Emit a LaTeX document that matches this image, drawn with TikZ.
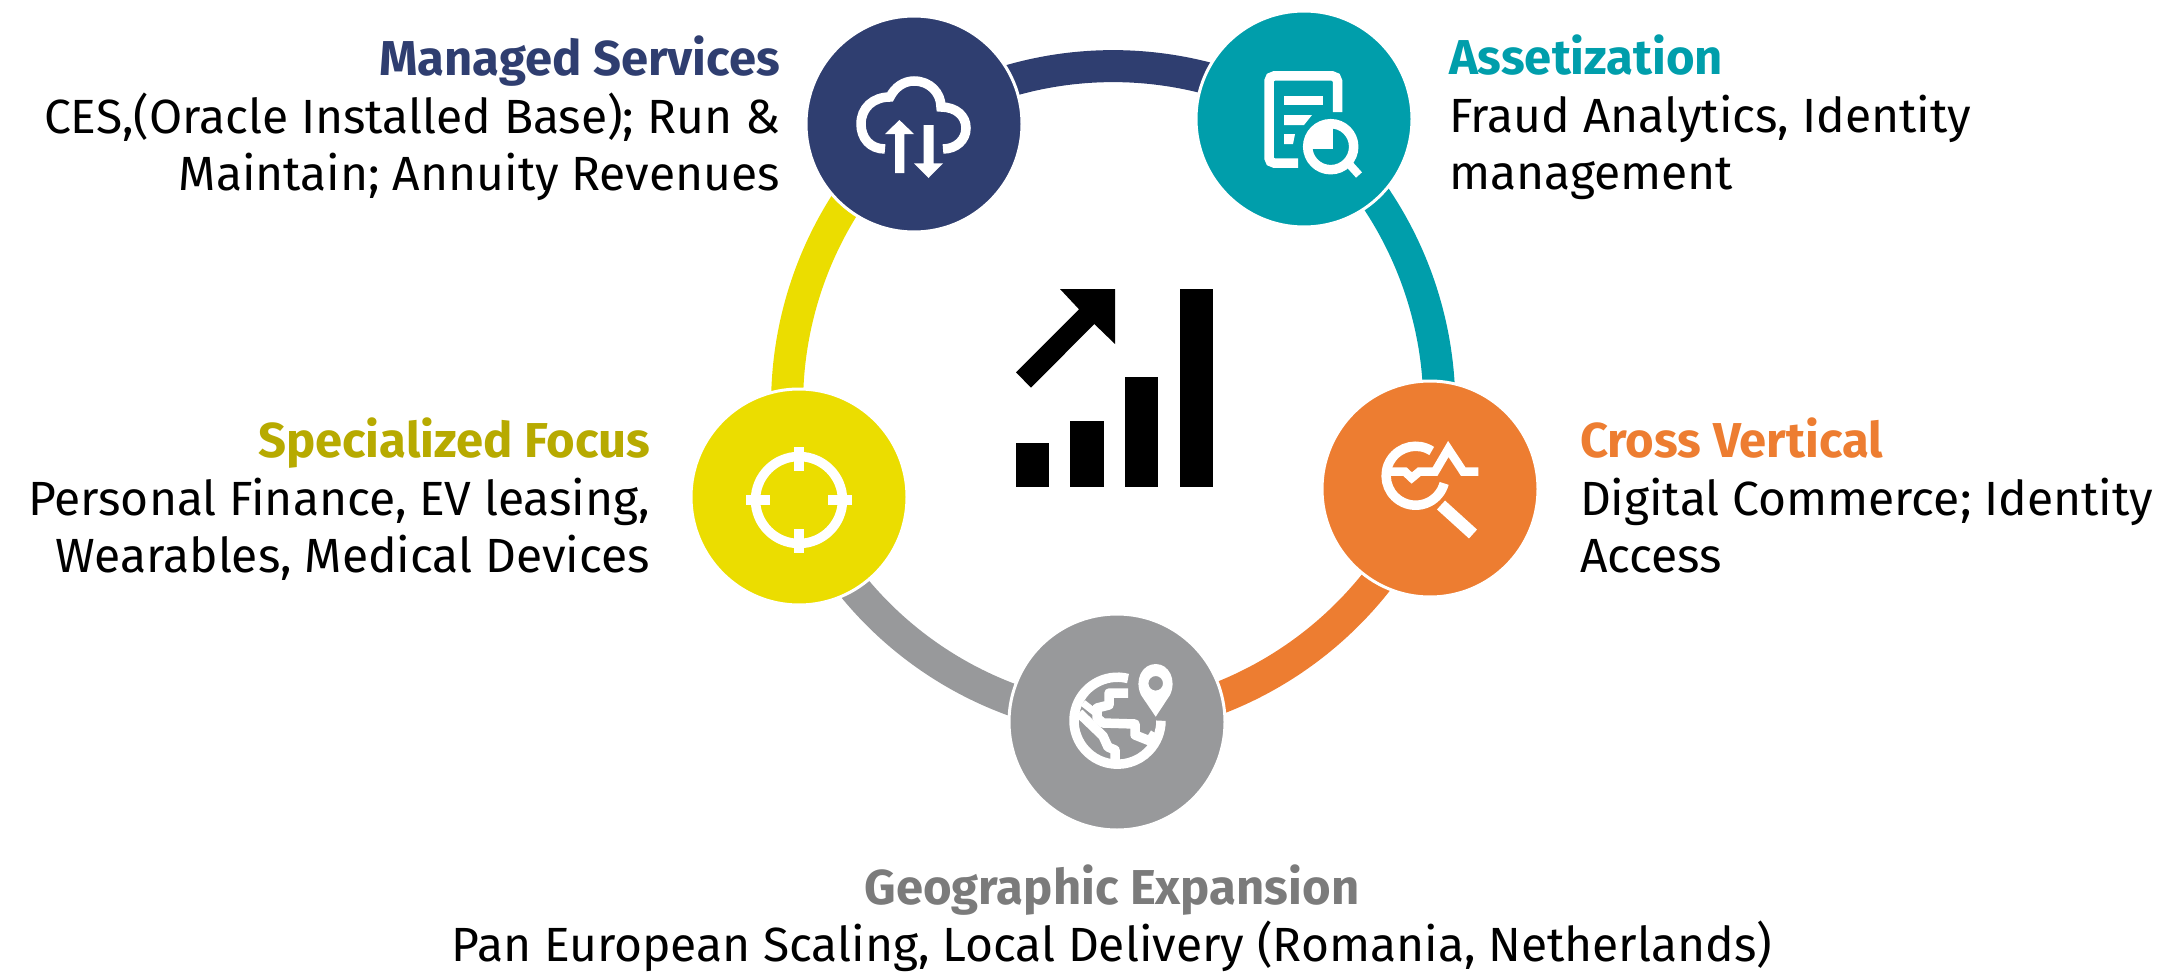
\documentclass[tikz,border=0pt]{standalone}
\usepackage{fontspec}
\setmainfont{Fira Sans}
\definecolor{cnavy}{HTML}{2F3E70}
\definecolor{cteal}{HTML}{009EAB}
\definecolor{cyel}{HTML}{EBDD00}
\definecolor{cora}{HTML}{ED7D31}
\definecolor{cgry}{HTML}{98999B}
\definecolor{tyel}{HTML}{B7AA00}
\definecolor{tgry}{HTML}{7B7B7B}
\tikzset{
  hub/.style={circle,draw=white,line width=3pt,minimum size=216pt,inner sep=0pt,outer sep=0pt},
  seg/.style={line width=32pt,bend left=31.7,looseness=.92},
  ico/.style={draw=white,fill=none,line width=9.5pt},
  txt/.style={inner sep=0pt,outer sep=0pt,font=\fontsize{48pt}{57.5pt}\selectfont,text=black},
}
\newcommand{\hd}[2]{{\fontsize{49pt}{57.5pt}\selectfont\color{#1}\bfseries #2}}
\begin{document}
\begin{tikzpicture}[x=1pt,y=-1pt]
\useasboundingbox (0,0) rectangle (2177,974);
\coordinate (navyc) at (914,124);
\coordinate (tealc) at (1304,119);
\coordinate (orac) at (1430,489);
\coordinate (gryc) at (1117,722);
\coordinate (yelc) at (799,497);
\draw[seg,cnavy] (navyc) to (tealc);
\draw[seg,cteal] (tealc) to (orac);
\draw[seg,cora] (orac) to (gryc);
\draw[seg,cgry] (gryc) to (yelc);
\draw[seg,cyel] (yelc) to (navyc);
\node[hub,fill=cnavy] (navy) at (navyc) {};
\node[hub,fill=cteal] (teal) at (tealc) {};
\node[hub,fill=cora] (ora) at (orac) {};
\node[hub,fill=cgry] (gry) at (gryc) {};
\node[hub,fill=cyel] (yel) at (yelc) {};
% central chart
\fill[black] (1016,443) rectangle (1049,487);
\fill[black] (1070,421) rectangle (1104,487);
\fill[black] (1125,377) rectangle (1158,487);
\fill[black] (1180,289) rectangle (1213,487);
\fill[black] (1060,289) -- (1115,289) -- (1115,344) -- (1094.3,324) -- (1031,387.7) -- (1016,372.3) -- (1079,309.3) -- cycle;
% navy icon
\draw[ico] (885,149) .. controls (870,149) and (861,138) .. (861,124) .. controls (861,108) and (873,97) .. (890,97) .. controls (895,87) and (904,81) .. (914,81) .. controls (930,81) and (941,93) .. (941,107) .. controls (956,107) and (966,116) .. (966,128) .. controls (966,140) and (956,149) .. (943,149);
\fill[white] (895,173) -- (904.4,173) -- (904.4,134) -- (914,134) -- (899.4,120) -- (885,134) -- (895,134) -- cycle;
\fill[white] (923.5,125) -- (933.5,125) -- (933.5,163.3) -- (943,163.3) -- (928.5,178) -- (914,163.3) -- (923.5,163.3) -- cycle;
% teal icon
\draw[ico,rounded corners=5pt] (1337.5,112) -- (1337.5,76) -- (1269,76) -- (1269,163) -- (1298,163);
\fill[white] (1284,96) rectangle (1323,105);
\fill[white] (1284,115) -- (1312,115) -- (1304,125) -- (1284,125) -- cycle;
\fill[white] (1284,134) -- (1295,134) -- (1293,144) -- (1284,144) -- cycle;
\draw[ico] (1330.7,146.7) circle[radius=23];
\fill[white] (1333,149) -- (1312,149) -- (1312,128) -- (1333,128) -- cycle;
\draw[ico,line width=8pt] (1350,165) -- (1359,175);
% yellow icon
\draw[ico] (799,500) circle[radius=43.5];
\fill[white] (794,447) rectangle (804,471);
\fill[white] (794,529) rectangle (804,553);
\fill[white] (746,495) rectangle (770,505);
\fill[white] (828,495) rectangle (852,505);
% orange icon
\draw[ico] (1431.7,451) arc[start angle=-57,end angle=-345,radius=29.5];
\draw[ico,line width=8.5pt,miter limit=10] (1390,471.7) -- (1405,471.7) -- (1411.7,478) -- (1419.3,471.7) -- (1435,471.7) -- (1448.3,449) -- (1463.3,471.7) -- (1478.3,471.7);
\draw[ico,line width=12pt] (1441,505) -- (1473,534);
% grey icon
\draw[ico] (1128,678.5) arc[start angle=-76,end angle=-360,radius=43.5];
\draw[ico,line width=9.5pt,line join=round] (1079,713) -- (1103,736) -- (1108,747) -- (1115,750) -- (1115,762);
\draw[ico,line width=9.5pt,line join=round] (1128,693) -- (1109,693) -- (1109,705) -- (1097,708) -- (1097,718) -- (1103,723) -- (1135,724) -- (1135,735) -- (1150,741) -- (1155,733);
\draw[ico,line width=7pt] (1083,703) -- (1097,714);
\fill[white,even odd rule] (1155.7,716.7) -- (1141,695) .. controls (1134,680) and (1142,664) .. (1155.7,664) .. controls (1169,664) and (1177,680) .. (1170,695) -- cycle (1155.7,683.3) circle[radius=7.3];
% text
\node[txt,align=right,anchor=base east] (tnavy) at (780,190.5) {\hd{cnavy}{Managed Services}\\CES,(Oracle Installed Base); Run \&\\Maintain; Annuity Revenues};
\node[txt,align=left,anchor=base west] (tteal) at (1449,189.5) {\hd{cteal}{Assetization}\\Fraud Analytics, Identity\\management};
\node[txt,align=right,anchor=base east] (tyel) at (650,572.5) {\hd{tyel}{Specialized Focus}\\Personal Finance, EV leasing,\\Wearables, Medical Devices};
\node[txt,align=left,anchor=base west] (tora) at (1580,572.5) {\hd{cora}{Cross Vertical}\\Digital Commerce; Identity\\Access};
\node[txt,align=center,anchor=base] (tgry) at (1112,961.5) {\hd{tgry}{Geographic Expansion}\\Pan European Scaling, Local Delivery (Romania, Netherlands)};
\end{tikzpicture}
\end{document}
